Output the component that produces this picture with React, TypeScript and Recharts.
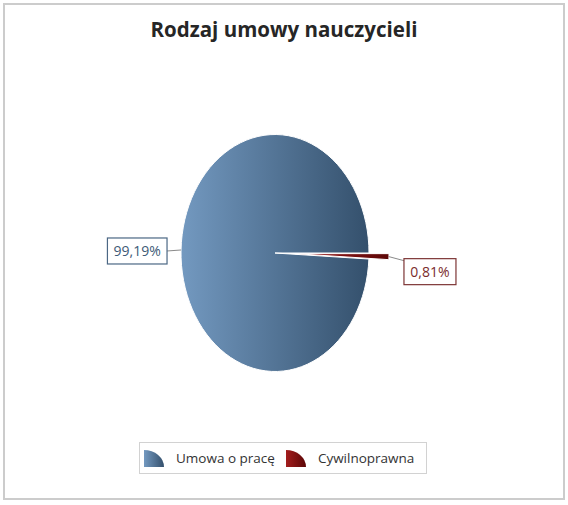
import { PieChart, Pie, Cell, Legend } from 'recharts';

const chartTitle = 'Rodzaj umowy nauczycieli';
const categories = ['Umowa o pracę', 'Cywilnoprawna'];
const shares = [99.19, 0.81];
const explodedSlice = 'Cywilnoprawna';

const gradientStops = [
  ['#7399c0', '#34506c'],
  ['#a31d1d', '#5c0707'],
];
const labelInk = ['#3e5a77', '#7a2c2c'];
const labelBorder = ['#4b6784', '#7d3535'];

const data = categories.map((name, i) => ({ name, value: shares[i] }));

const W = 568;
const H = 505;
const CX = 275;
const CY = 253;
const RX = 94;
const RY = 118.5;
const SQ = RY / RX;
const EXPLODE = 20;
const RAD = Math.PI / 180;
const FONT = '"Open Sans", sans-serif';

const fmt = (v: number) => `${v.toFixed(2).replace('.', ',')}%`;

// pie is squashed into an ellipse, so draw the slice path by hand
function EllipseSector(props: any) {
  const { cx, cy, outerRadius, startAngle, endAngle, midAngle, fill, name } = props;
  const off = name === explodedSlice ? EXPLODE : 0;
  const ox = cx + off * Math.cos(-midAngle * RAD);
  const oy = cy + off * Math.sin(-midAngle * RAD) * SQ;
  const pt = (a: number) => [
    ox + outerRadius * Math.cos(-a * RAD),
    oy + outerRadius * SQ * Math.sin(-a * RAD),
  ];
  const [x1, y1] = pt(startAngle);
  const [x2, y2] = pt(endAngle);
  const large = Math.abs(endAngle - startAngle) > 180 ? 1 : 0;
  const sweep = endAngle > startAngle ? 0 : 1;
  const d = `M${ox},${oy} L${x1},${y1} A${outerRadius},${outerRadius * SQ} 0 ${large} ${sweep} ${x2},${y2} Z`;
  return <path d={d} fill={fill} stroke="#ffffff" strokeWidth={1} />;
}

function SliceLabel(props: any) {
  const { cx, cy, midAngle, outerRadius, name, value } = props;
  const i = categories.indexOf(name);
  const off = name === explodedSlice ? EXPLODE : 0;
  const c = Math.cos(-midAngle * RAD);
  const s = Math.sin(-midAngle * RAD);
  const ex = cx + (outerRadius + off) * c;
  const ey = cy + (outerRadius + off) * SQ * s;
  const text = fmt(value);
  const bw = text.length * 7.6 + 14;
  const bh = 26;
  let lx: number, ly: number, bx: number, by: number;
  if (c >= 0) {
    lx = ex + 15;
    ly = ey + 4;
    bx = lx;
    by = ey + 2;
  } else {
    lx = ex - 14;
    ly = ey + 1;
    bx = lx - bw;
    by = ly - bh / 2;
  }
  return (
    <g>
      <polyline points={`${ex},${ey} ${lx},${ly}`} fill="none" stroke="#8a8a8a" strokeWidth={1} />
      <rect x={bx} y={by} width={bw} height={bh} fill="#ffffff" stroke={labelBorder[i]} strokeWidth={1.2} />
      <text
        x={bx + bw / 2}
        y={by + bh / 2 + 5}
        textAnchor="middle"
        fontFamily={FONT}
        fontSize={14}
        fill={labelInk[i]}
      >
        {text}
      </text>
    </g>
  );
}

function LegendBox() {
  return (
    <div
      style={{
        display: 'flex',
        alignItems: 'center',
        height: 32,
        boxSizing: 'border-box',
        border: '1px solid #d2d2d2',
        padding: '0 4px',
        fontFamily: FONT,
        fontSize: 13.5,
        color: '#333333',
        whiteSpace: 'nowrap',
      }}
    >
      {categories.map((name, i) => (
        <div key={name} style={{ display: 'flex', alignItems: 'center', marginRight: 11 }}>
          <svg width={20} height={17} style={{ marginRight: 12 }}>
            <defs>
              <linearGradient id={`lg${i}`} x1="0" y1="0" x2="1" y2="0">
                <stop offset="0%" stopColor={gradientStops[i][0]} />
                <stop offset="100%" stopColor={gradientStops[i][1]} />
              </linearGradient>
            </defs>
            <path d="M0,17 L0,0 A20,17 0 0 1 20,17 Z" fill={`url(#lg${i})`} />
          </svg>
          <span>{name}</span>
        </div>
      ))}
    </div>
  );
}

export default function App() {
  return (
    <div style={{ position: 'absolute', left: 0, top: 0, width: W, height: H, background: '#ffffff' }}>
      <div
        style={{
          position: 'absolute',
          left: 3,
          top: 3,
          width: 562,
          height: 497,
          boxSizing: 'border-box',
          border: '2px solid #cccccc',
        }}
      />
      <div
        style={{
          position: 'absolute',
          left: 0,
          top: 15,
          width: W,
          textAlign: 'center',
          fontFamily: FONT,
          fontWeight: 700,
          fontSize: 20.5,
          color: '#262626',
        }}
      >
        {chartTitle}
      </div>
      <div style={{ position: 'absolute', left: 0, top: 0 }}>
        <PieChart width={W} height={H} margin={{ top: 0, right: 0, bottom: 0, left: 0 }}>
          <defs>
            {gradientStops.map((g, i) => (
              <linearGradient key={i} id={`pg${i}`} x1="0" y1="0" x2="1" y2="0">
                <stop offset="0%" stopColor={g[0]} />
                <stop offset="100%" stopColor={g[1]} />
              </linearGradient>
            ))}
          </defs>
          <Pie
            data={data}
            dataKey="value"
            nameKey="name"
            cx={CX}
            cy={CY}
            outerRadius={RX}
            startAngle={0}
            endAngle={360}
            isAnimationActive={false}
            labelLine={false}
            label={SliceLabel}
            shape={EllipseSector}
            activeShape={EllipseSector}
            inactiveShape={EllipseSector}
          >
            {data.map((d, i) => (
              <Cell key={d.name} fill={`url(#pg${i})`} />
            ))}
          </Pie>
          <Legend
            content={LegendBox}
            wrapperStyle={{ position: 'absolute', left: 139, top: 442, width: 288 }}
          />
        </PieChart>
      </div>
    </div>
  );
}
